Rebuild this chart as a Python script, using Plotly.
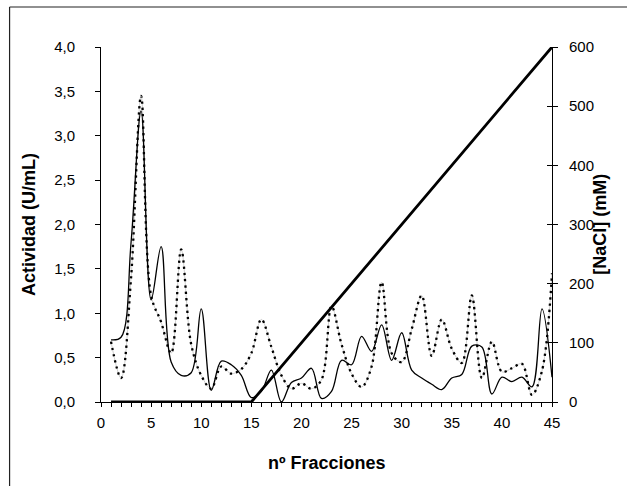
import plotly.graph_objects as go

fracciones = list(range(1, 46))

actividad_a = [0.70, 0.73, 1.80, 3.28, 1.15, 1.75, 0.45, 0.30, 0.33, 1.05,
               0.13, 0.46, 0.42, 0.30, 0.05, 0.12, 0.36, 0.00, 0.22, 0.27,
               0.38, 0.04, 0.12, 0.47, 0.42, 0.74, 0.57, 0.87, 0.47, 0.78,
               0.36, 0.27, 0.20, 0.14, 0.27, 0.31, 0.63, 0.62, 0.09, 0.28,
               0.23, 0.28, 0.17, 1.05, 0.28]

actividad_b = [0.68, 0.27, 1.40, 3.45, 1.20, 0.90, 0.55, 1.72, 0.65, 0.30,
               0.15, 0.40, 0.32, 0.37, 0.55, 0.93, 0.62, 0.30, 0.15, 0.21,
               0.15, 0.25, 1.08, 0.65, 0.32, 0.17, 0.40, 1.35, 0.55, 0.45,
               0.82, 1.20, 0.52, 0.93, 0.60, 0.44, 1.20, 0.27, 0.68, 0.34,
               0.38, 0.43, 0.08, 0.35, 1.45]

nacl = [0, 0, 0, 0, 0, 0, 0, 0, 0, 0, 0, 0, 0, 0, 0,
        20, 40, 60, 80, 100, 120, 140, 160, 180, 200,
        220, 240, 260, 280, 300, 320, 340, 360, 380, 400,
        420, 440, 460, 480, 500, 520, 540, 560, 580, 600]

x_ticks = [0, 5, 10, 15, 20, 25, 30, 35, 40, 45]
y_ticks = [0, 0.5, 1.0, 1.5, 2.0, 2.5, 3.0, 3.5, 4.0]
y2_ticks = [0, 100, 200, 300, 400, 500, 600]

FONT = "Liberation Sans, Arial, sans-serif"

fig = go.Figure()

# thin grey under-line of the dotted series
fig.add_trace(go.Scatter(x=fracciones, y=actividad_b, mode="lines",
                         line=dict(color="#b0b0b0", width=0.6, shape="spline", smoothing=1),
                         hoverinfo="skip", showlegend=False))
fig.add_trace(go.Scatter(x=fracciones, y=actividad_b, mode="lines",
                         line=dict(color="black", width=2.3, dash="2.3px,4px",
                                   shape="spline", smoothing=1),
                         showlegend=False))
fig.add_trace(go.Scatter(x=fracciones, y=actividad_a, mode="lines",
                         line=dict(color="black", width=1.3, shape="spline", smoothing=1),
                         showlegend=False))
fig.add_trace(go.Scatter(x=fracciones, y=nacl, mode="lines", yaxis="y2",
                         line=dict(color="black", width=2.8),
                         showlegend=False))
fig.add_trace(go.Scatter(x=[None], y=[None], yaxis="y3", showlegend=False,
                         hoverinfo="skip"))

axis_font = dict(family=FONT, size=15, color="black")
title_font = dict(family=FONT, size=18, color="black")

fig.update_layout(
    width=627, height=486,
    margin=dict(l=101, r=75, t=47, b=84),
    paper_bgcolor="white", plot_bgcolor="white",
    separators=",.",
    font=dict(family=FONT, size=15, color="black"),
    xaxis=dict(range=[0, 45], tickvals=x_ticks, ticks="outside", ticklen=4,
               tickcolor="black", tickwidth=1, ticklabelstandoff=3,
               minor=dict(dtick=1, ticks="outside", ticklen=4, tickcolor="black"),
               showline=True, linecolor="black", linewidth=1,
               showgrid=False, zeroline=False, tickfont=axis_font),
    yaxis=dict(range=[0, 4], tickvals=y_ticks, tickformat=".1f", ticks="outside",
               ticklen=5, tickcolor="black", showline=True, linecolor="black",
               ticklabelstandoff=17,
               linewidth=1, showgrid=False, zeroline=False, tickfont=axis_font),
    yaxis2=dict(range=[0, 600], tickvals=y2_ticks, overlaying="y", side="right",
                ticks="outside", ticklen=5, tickcolor="black", showline=True,
                ticklabelstandoff=8,
                linecolor="black", linewidth=1, showgrid=False, zeroline=False,
                tickfont=axis_font),
    yaxis3=dict(range=[0, 600], tickvals=y2_ticks, overlaying="y", side="right",
                ticks="inside", ticklen=5, tickcolor="black", showticklabels=False,
                showline=False, showgrid=False, zeroline=False),
    annotations=[
        dict(text="<b>nº Fracciones</b>", xref="paper", yref="paper",
             x=0.5, y=-0.172, xanchor="center", yanchor="middle",
             showarrow=False, font=title_font),
        dict(text="<b>Actividad (U/mL)</b>", xref="paper", yref="paper",
             x=-0.1605, y=0.5, xanchor="center", yanchor="middle", textangle=-90,
             showarrow=False, font=title_font),
        dict(text="<b>[NaCl] (mM)</b>", xref="paper", yref="paper",
             x=1.105, y=0.5, xanchor="center", yanchor="middle", textangle=-90,
             showarrow=False, font=title_font),
    ],
    shapes=[
        dict(type="line", xref="paper", yref="paper", x0=-0.2027, x1=1.3,
             y0=1.1127, y1=1.1127, line=dict(color="#222", width=1.2)),
        dict(type="line", xref="paper", yref="paper", x0=-0.2027, x1=-0.2027,
             y0=1.1127, y1=-0.3, line=dict(color="#222", width=1.2)),
    ],
)

fig.write_html("out.html")
